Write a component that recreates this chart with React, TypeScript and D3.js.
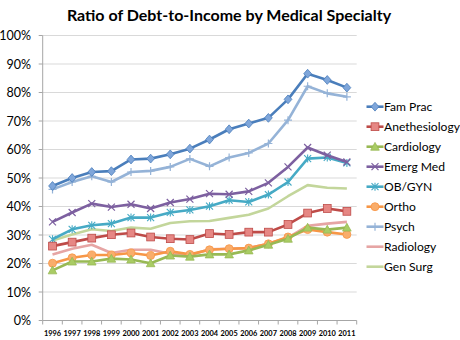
import React from "react";
import * as d3 from "d3";

const years = ["1996","1997","1998","1999","2000","2001","2002","2003","2004","2005","2006","2007","2008","2009","2010","2011"];
const yTicks = [0, 10, 20, 30, 40, 50, 60, 70, 80, 90, 100];

const famPrac = [47.2, 50.0, 52.1, 52.4, 56.5, 56.8, 58.3, 60.3, 63.5, 67.1, 69.1, 71.1, 77.6, 86.6, 84.4, 81.7];
const anethesiology = [26.1, 27.5, 28.9, 30.1, 30.7, 29.3, 28.7, 28.4, 30.5, 30.2, 31.0, 31.0, 33.7, 37.7, 39.3, 38.3];
const cardiology = [17.6, 20.7, 20.7, 21.7, 21.4, 20.1, 22.8, 22.4, 23.2, 23.2, 24.6, 26.6, 28.7, 32.6, 31.9, 32.6];
const emergMed = [34.6, 37.9, 41.0, 39.8, 40.8, 39.3, 41.4, 42.6, 44.5, 44.3, 45.3, 48.3, 53.9, 60.7, 58.0, 55.6];
const obGyn = [28.5, 32.0, 33.4, 34.0, 36.1, 36.1, 37.9, 38.8, 40.1, 42.2, 41.6, 44.2, 48.6, 56.8, 57.2, 55.3];
const ortho = [20.1, 22.0, 23.0, 23.0, 23.7, 22.8, 24.3, 23.2, 24.8, 25.2, 25.4, 26.9, 29.3, 31.9, 31.0, 30.2];
const psych = [46.0, 48.6, 50.6, 48.6, 52.1, 52.5, 53.9, 56.7, 54.1, 57.2, 58.8, 62.1, 70.3, 82.2, 79.7, 78.5];
const radiology = [23.2, 25.2, 26.6, 23.7, 24.8, 24.8, 23.4, 22.9, 25.0, 25.2, 25.4, 26.9, 29.1, 33.2, 34.0, 34.6];
const genSurg = [28.1, 30.2, 32.0, 31.4, 32.6, 32.2, 34.2, 34.8, 34.9, 36.0, 37.1, 39.3, 43.6, 47.5, 46.6, 46.3];

type Marker = "diamond" | "square" | "triangle" | "x" | "star" | "circle" | "plus" | "none";

const seriesNames = ["Fam Prac", "Anethesiology", "Cardiology", "Emerg Med", "OB/GYN", "Ortho", "Psych", "Radiology", "Gen Surg"];
const seriesValues = [famPrac, anethesiology, cardiology, emergMed, obGyn, ortho, psych, radiology, genSurg];
const seriesLine = ["#4A7EBB", "#BE4B48", "#98B954", "#7D60A0", "#46AAC5", "#F79646", "#95B3D7", "#E6A5A4", "#C3D69B"];
const seriesFill = ["#7FA6DA", "#E68784", "#A9CC64", "#7D60A0", "#46AAC5", "#F9AD6B", "#95B3D7", "#E6A5A4", "#C3D69B"];
const seriesMarker: Marker[] = ["diamond", "square", "triangle", "x", "star", "circle", "plus", "none", "none"];

// draw order (back to front)
const drawOrder = [8, 7, 6, 5, 4, 3, 2, 1, 0];

function MarkerShape({ type, x, y, stroke, fill }: { type: Marker; x: number; y: number; stroke: string; fill: string }) {
  const s = 3.9;
  switch (type) {
    case "diamond":
      return <path d={`M${x},${y - s - 0.5}L${x + s},${y}L${x},${y + s + 0.5}L${x - s},${y}Z`} fill={fill} stroke={stroke} strokeWidth={0.8} />;
    case "square":
      return <rect x={x - 3.9} y={y - 3.9} width={7.8} height={7.8} fill={fill} stroke={stroke} strokeWidth={0.8} />;
    case "triangle":
      return <path d={`M${x},${y - 4.3}L${x + 4.3},${y + 3.5}L${x - 4.3},${y + 3.5}Z`} fill={fill} stroke={stroke} strokeWidth={0.8} />;
    case "circle":
      return <circle cx={x} cy={y} r={4} fill={fill} stroke={stroke} strokeWidth={0.8} />;
    case "x":
      return <path d={`M${x - 3.5},${y - 3.5}L${x + 3.5},${y + 3.5}M${x - 3.5},${y + 3.5}L${x + 3.5},${y - 3.5}`} stroke={stroke} strokeWidth={1.2} fill="none" />;
    case "star":
      return <path d={`M${x - 3.5},${y - 3.5}L${x + 3.5},${y + 3.5}M${x - 3.5},${y + 3.5}L${x + 3.5},${y - 3.5}M${x},${y - 4}L${x},${y + 4}`} stroke={stroke} strokeWidth={1.1} fill="none" />;
    case "plus":
      return <path d={`M${x - 4},${y}L${x + 4},${y}M${x},${y - 4}L${x},${y + 4}`} stroke={stroke} strokeWidth={1.2} fill="none" />;
    default:
      return null;
  }
}

export default function App() {
  const width = 460;
  const height = 340;
  const left = 42.7;
  const right = 356.7;
  const top = 35.5;
  const bottom = 320.5;

  const x = d3.scaleBand<string>().domain(years).range([left, right]).padding(0);
  const y = d3.scaleLinear().domain([0, 100]).range([bottom, top]);
  const cx = (yr: string) => (x(yr) as number) + x.bandwidth() / 2;

  const line = d3
    .line<number>()
    .x((_, i) => cx(years[i]))
    .y((d) => y(d));

  const font = "Lato, 'Open Sans', sans-serif";
  const legendX = 366.5;
  const legendY0 = 106.7;
  const legendStep = 20;

  const boundaries = years.map((yr) => x(yr) as number).concat([right]);

  return (
    <svg width={width} height={height} style={{ position: "absolute", left: 0, top: 0, background: "#fff" }}>
      <rect x={0} y={0} width={width} height={height} fill="#fff" />
      <text x={229} y={21} textAnchor="middle" fontFamily={font} fontWeight="bold" fontSize={16} fill="#000">
        Ratio of Debt-to-Income by Medical Specialty
      </text>

      {/* gridlines */}
      {yTicks.filter((t) => t > 0).map((t) => (
        <line key={"g" + t} x1={left} x2={right} y1={y(t)} y2={y(t)} stroke="#D9D9D9" strokeWidth={1} />
      ))}

      {/* axes */}
      <line x1={left} x2={left} y1={top} y2={bottom} stroke="#A6A6A6" strokeWidth={1} />
      <line x1={left} x2={right} y1={bottom} y2={bottom} stroke="#A6A6A6" strokeWidth={1} />
      {yTicks.map((t) => (
        <g key={"yt" + t}>
          <line x1={left - 4} x2={left} y1={y(t)} y2={y(t)} stroke="#A6A6A6" />
          <text x={31} y={y(t) + 4.5} textAnchor="end" fontFamily={font} fontSize={12.5} fill="#000">
            {t}%
          </text>
        </g>
      ))}
      {boundaries.map((b, i) => (
        <line key={"xt" + i} x1={b} x2={b} y1={bottom} y2={bottom + 4} stroke="#A6A6A6" />
      ))}
      {years.map((yr) => (
        <text key={"xl" + yr} x={cx(yr)} y={336} textAnchor="middle" fontFamily={font} fontWeight="bold" fontSize={7.4} fill="#000">
          {yr}
        </text>
      ))}

      {/* series */}
      {drawOrder.map((si) => (
        <g key={"s" + si}>
          <path d={line(seriesValues[si]) || ""} fill="none" stroke={seriesLine[si]} strokeWidth={2.6} strokeLinejoin="round" />
          {seriesValues[si].map((v, i) => (
            <MarkerShape key={i} type={seriesMarker[si]} x={cx(years[i])} y={y(v)} stroke={seriesLine[si]} fill={seriesFill[si]} />
          ))}
        </g>
      ))}

      {/* legend */}
      {seriesNames.map((name, i) => {
        const ly = legendY0 + i * legendStep;
        return (
          <g key={"l" + i}>
            <line x1={legendX} x2={legendX + 17} y1={ly} y2={ly} stroke={seriesLine[i]} strokeWidth={2.6} />
            <MarkerShape type={seriesMarker[i]} x={legendX + 8.5} y={ly} stroke={seriesLine[i]} fill={seriesFill[i]} />
            <text x={legendX + 17.5} y={ly + 4.4} fontFamily={font} fontSize={12.1} fill="#000">
              {name}
            </text>
          </g>
        );
      })}
    </svg>
  );
}
